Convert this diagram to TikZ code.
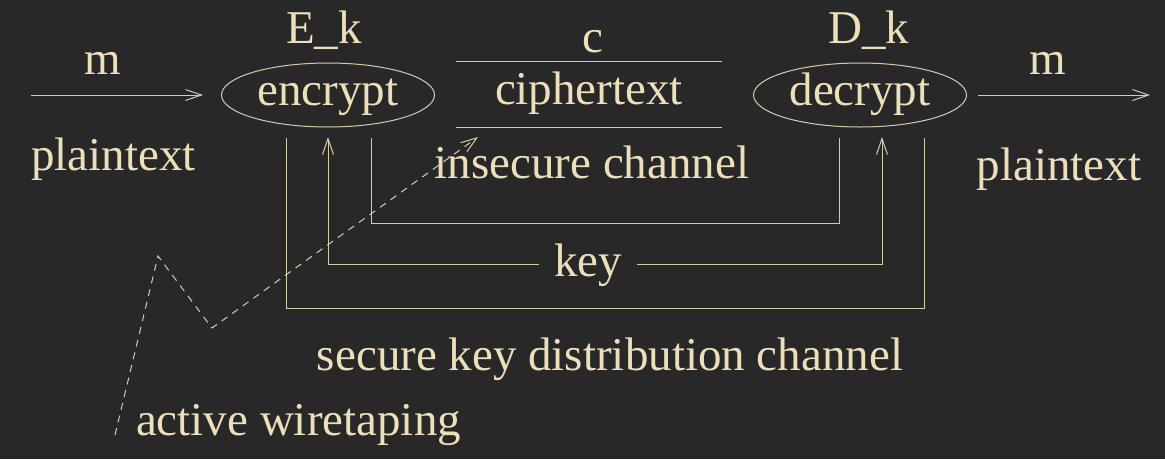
\documentclass[tikz,border=0pt]{standalone}
\usepackage{fontspec}
\setmainfont{Liberation Serif}
\usetikzlibrary{arrows.meta,shapes.geometric}
\definecolor{bg}{HTML}{282828}
\definecolor{fg}{HTML}{EEDFBB}
\definecolor{lc}{HTML}{D8CCA8}
\begin{document}
\begin{tikzpicture}[x=1pt,y=-1pt,
  every node/.style={text=fg,font=\fontsize{47}{51}\selectfont},
  txt/.style={anchor=base,inner sep=0pt},
  ln/.style={draw=lc,line width=1pt},
  arr/.style={ln,-{Straight Barb[length=16pt,width=11pt]}},
  box/.style={ellipse,draw=lc,line width=1pt,minimum width=213pt,minimum height=64pt,inner sep=0pt,text height=30pt,text depth=10pt}]
\fill[bg] (0,0) rectangle (1165,459);
\useasboundingbox (0,0) rectangle (1165,459);

% main nodes
\node[box] (enc) at (328,95) {encrypt};
\node[box] (dec) at (860,95) {decrypt};
\node[inner sep=0pt,minimum width=266pt,minimum height=65pt,text height=30pt,text depth=10pt] (ct) at (589,94.5) {ciphertext};
\draw[ln] (ct.north west) -- (ct.north east);
\draw[ln] (ct.south west) -- (ct.south east);

% labels
\node[txt] (m1) at (103,74) {m};
\node[txt] (p1) at (113.5,170) {plaintext};
\node[txt] (ek) at (324,43) {E\_k};
\node[txt] (c) at (593,52) {c};
\node[txt] (dk) at (869,43) {D\_k};
\node[txt] (m2) at (1048,74) {m};
\node[txt] (p2) at (1059,180) {plaintext};
\node[txt] (ic) at (592,178) {insecure channel};
\node[txt] (sk) at (610,370) {secure key distribution channel};
\node[txt] (aw) at (298.5,435) {active wiretaping};
\node[anchor=base,inner ysep=0pt,inner xsep=15pt] (key) at (588,276) {key};

% coordinates
\coordinate (inL) at (31,95);
\coordinate (inR) at (203,95);
\coordinate (outL) at (978,95);
\coordinate (outR) at (1150,95);
\coordinate (e1) at (286,138);
\coordinate (e2) at (328,137);
\coordinate (e3) at (371,138);
\coordinate (d1) at (839,138);
\coordinate (d2) at (882,137);
\coordinate (d3) at (924,138);
\coordinate (w0) at (115,435);
\coordinate (w1) at (158,256);
\coordinate (w2) at (212,328);
\coordinate (w3) at (478,137);

% connectors
\draw[arr] (inL) -- (inR);
\draw[arr] (outL) -- (outR);
\draw[ln] (e3) -- ++(0,85) -| (d1);
\draw[ln] (e1) -- ++(0,170) -| (d3);
\draw[arr] (key.west) -| (e2);
\draw[arr] (key.east) -| (d2);
\draw[ln,dashed,dash pattern=on 7pt off 6pt,-{Straight Barb[length=16pt,width=11pt]}] (w0) -- (w1) -- (w2) -- (w3);
\end{tikzpicture}
\end{document}
